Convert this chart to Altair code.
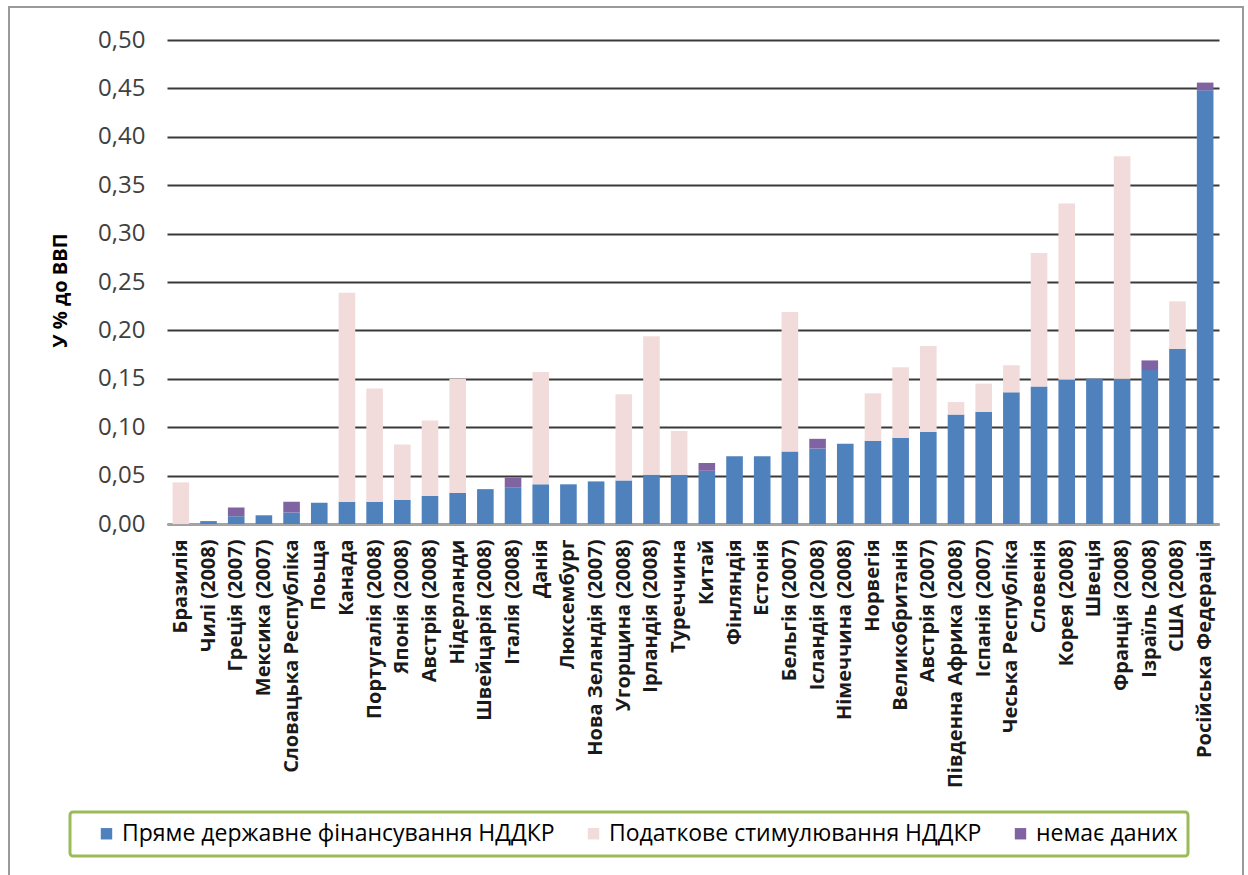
import altair as alt
import pandas as pd

countries = ["Бразилія", "Чилі (2008)", "Греція (2007)", "Мексика (2007)", "Словацька Республіка",
             "Поьща", "Канада", "Португалія (2008)", "Японія (2008)", "Австрія (2008)",
             "Нідерланди", "Швейцарія (2008)", "Італія (2008)", "Данія", "Люксембург",
             "Нова Зеландія (2007)", "Угорщина (2008)", "Ірландія (2008)", "Туреччина", "Китай",
             "Фінляндія", "Естонія", "Бельгія (2007)", "Ісландія (2008)", "Німеччина (2008)",
             "Норвегія", "Великобританія", "Австрія (2007)", "Південна Африка (2008)", "Іспанія (2007)",
             "Чеська Республіка", "Словенія", "Корея (2008)", "Швеція", "Франція (2008)",
             "Ізраїль (2008)", "США (2008)", "Російська Федерація"]

direct = [0.000, 0.003, 0.008, 0.009, 0.012,
          0.022, 0.023, 0.023, 0.025, 0.029,
          0.032, 0.036, 0.038, 0.041, 0.041,
          0.044, 0.045, 0.051, 0.051, 0.055,
          0.070, 0.070, 0.075, 0.078, 0.083,
          0.086, 0.089, 0.095, 0.113, 0.116,
          0.136, 0.142, 0.149, 0.150, 0.150,
          0.159, 0.181, 0.448]

tax = [0.043, 0.000, 0.000, 0.000, 0.000,
       0.000, 0.216, 0.117, 0.057, 0.078,
       0.118, 0.000, 0.000, 0.116, 0.000,
       0.000, 0.089, 0.143, 0.045, 0.000,
       0.000, 0.000, 0.144, 0.000, 0.000,
       0.049, 0.073, 0.089, 0.013, 0.029,
       0.028, 0.138, 0.182, 0.000, 0.230,
       0.000, 0.049, 0.000]

nodata = [0.000, 0.000, 0.009, 0.000, 0.011,
          0.000, 0.000, 0.000, 0.000, 0.000,
          0.000, 0.000, 0.010, 0.000, 0.000,
          0.000, 0.000, 0.000, 0.000, 0.008,
          0.000, 0.000, 0.000, 0.010, 0.000,
          0.000, 0.000, 0.000, 0.000, 0.000,
          0.000, 0.000, 0.000, 0.000, 0.000,
          0.010, 0.000, 0.008]

series = ["Пряме державне фінансування НДДКР", "Податкове стимулювання НДДКР", "немає даних"]
colors = ["#4F81BD", "#F2DCDB", "#8064A2"]
stack_order = [0, 2, 1]
y_ticks = [0.0, 0.05, 0.10, 0.15, 0.20, 0.25, 0.30, 0.35, 0.40, 0.45, 0.50]

rows = []
for i, c in enumerate(countries):
    for s, vals, o in zip(series, [direct, tax, nodata], stack_order):
        rows.append({"country": c, "series": s, "value": vals[i], "ord": o})
df = pd.DataFrame(rows)

FONT = "Open Sans"

bars = alt.Chart(df).mark_bar().encode(
    x=alt.X("country:N", sort=countries, title=None,
            scale=alt.Scale(paddingInner=0.4, paddingOuter=0.2),
            axis=alt.Axis(labelAngle=-90, labelFontSize=20, labelFontWeight="bold",
                          labelColor="#1A1A1A",
                          labelFont=FONT, labelPadding=15, ticks=False,
                          domainColor="#A6A6A6", domainWidth=2, labelLimit=300)),
    y=alt.Y("value:Q", title="У % до ВВП",
            scale=alt.Scale(domain=[0, 0.5], nice=False),
            axis=alt.Axis(values=y_ticks,
                          labelExpr="replace(format(datum.value, '.2f'), '.', ',')",
                          labelFontSize=24, labelColor="#404040", labelFont=FONT,
                          labelPadding=22, ticks=False, domain=False,
                          gridColor="#3A3A3A", gridWidth=2,
                          titleFontSize=20, titleFont=FONT, titleFontWeight="bold",
                          titleColor="#000000", titleX=-97, titleY=250)),
    color=alt.Color("series:N", sort=series,
                    scale=alt.Scale(domain=series, range=colors),
                    legend=alt.Legend(title=None, orient="none", direction="horizontal",
                                      legendX=-97, legendY=772,
                                      strokeColor="#9BBB59",
                                      padding=10, fillColor="#FFFFFF",
                                      symbolType="square", symbolSize=130,
                                      symbolStrokeWidth=0, symbolOffset=15,
                                      labelFontSize=23, labelFont=FONT, labelColor="#000000",
                                      columnPadding=12, labelLimit=600)),
    order=alt.Order("ord:Q"),
)

frame = alt.Chart(pd.DataFrame({"a": [0]})).mark_rect(
    fill=None, stroke="#9A9A9A", strokeWidth=2
).encode(x=alt.value(-158), x2=alt.value(1076), y=alt.value(-33), y2=alt.value(850))

chart = alt.layer(frame, bars).properties(
    width=1052, height=484,
    autosize=alt.AutoSizeParams(type="none"),
    padding={"left": 167, "top": 40, "right": 29, "bottom": 351},
    background="#FFFFFF",
).configure_view(stroke=None).configure_legend(strokeWidth=3, cornerRadius=3)

chart.save("out.html", embed_options={"renderer": "svg", "actions": False})
